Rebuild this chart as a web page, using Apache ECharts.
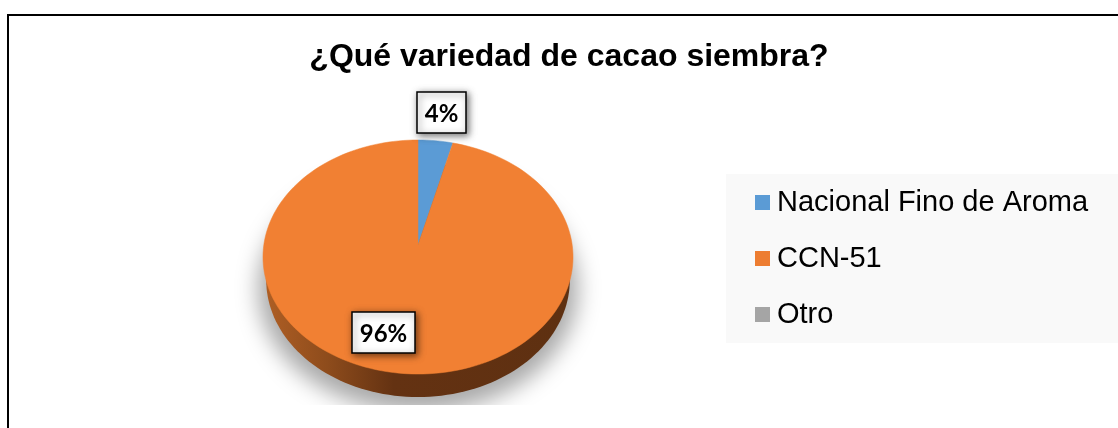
<!DOCTYPE html>
<html>
<head>
<meta charset="utf-8">
<style>html,body{margin:0;padding:0;background:#fff}#c{width:1118px;height:428px}</style>
<script src="https://cdn.jsdelivr.net/npm/echarts@6/dist/echarts.min.js"></script>
</head>
<body>
<div id="c"></div>
<script>
const chartTitle = '¿Qué variedad de cacao siembra?';
const categories = ['Nacional Fino de Aroma', 'CCN-51', 'Otro'];
const values = [4, 96, 0];
const legendColors = ['#5b9bd5', '#ed7d31', '#a5a5a5'];
const faceColors = ['#5b9bd5', '#f18033', '#a5a5a5'];
const labelBoxes = [[417, 92, 49, 41], [352, 312, 63, 41], null];

const total = values.reduce((a, b) => a + b, 0);
// Tilted-disc projection (unit circle -> perspective ellipse)
const K = -0.1026;
function project(u, v, cx, cy, c, a) {
  const d = 1 + K * v;
  return [cx + c * u / d, cy + a * v / d];
}
function arcPoints(from, to, cx, cy, c, a, closeAtCentre) {
  const pts = closeAtCentre ? [[cx, cy]] : [];
  const n = Math.max(8, Math.ceil((to - from) * 180));
  for (let i = 0; i <= n; i++) {
    const t = (from + (to - from) * i / n) * 2 * Math.PI;
    pts.push(project(Math.sin(t), -Math.cos(t), cx, cy, c, a));
  }
  return pts;
}
const CX = 418, CY = 245, RX = 154.2, RY = 115.8;
const SHADOW_SHIFT = 2000;

function sliceSeries(idx) {
  const start = values.slice(0, idx).reduce((a, b) => a + b, 0) / total;
  const end = start + values[idx] / total;
  return {
    type: 'custom',
    name: categories[idx],
    coordinateSystem: 'none',
    silent: true,
    z: 5,
    itemStyle: { color: legendColors[idx] },
    data: [[values[idx]]],
    renderItem: function () {
      if (!values[idx]) return { type: 'group', children: [] };
      return {
        type: 'polygon',
        shape: { points: arcPoints(start, end, CX, CY, RX, RY, true) },
        style: { fill: faceColors[idx], stroke: faceColors[idx], lineWidth: 0.5 }
      };
    }
  };
}
function labelSeries(idx) {
  return {
    type: 'custom',
    coordinateSystem: 'none',
    silent: true,
    z: 8,
    data: [[values[idx]]],
    renderItem: function () {
      const b = labelBoxes[idx];
      if (!b) return { type: 'group', children: [] };
      return {
        type: 'group',
        children: [
          { type: 'rect', shape: { x: b[0], y: b[1], width: b[2], height: b[3] },
            style: { fill: '#fff', stroke: '#000', lineWidth: 1.5,
              shadowBlur: 7, shadowColor: 'rgba(0,0,0,0.55)', shadowOffsetX: 2, shadowOffsetY: 2 } },
          { type: 'text', z2: 2, style: { x: b[0] + b[2] / 2, y: b[1] + b[3] / 2 + 2, text: values[idx] + '%',
              align: 'center', verticalAlign: 'middle', fill: '#000',
              font: 'bold 24px Lato, sans-serif' } }
        ]
      };
    }
  };
}
const bodySeries = {
  type: 'custom',
  coordinateSystem: 'none',
  silent: true,
  z: 2,
  data: [[0]],
  renderItem: function () {
    return {
      type: 'group',
      children: [
        { type: 'polygon', shape: { points: arcPoints(0, 1, CX - SHADOW_SHIFT, 276, 159, 122, false) },
          style: { fill: '#000', shadowBlur: 22, shadowColor: 'rgba(0,0,0,0.34)', shadowOffsetX: SHADOW_SHIFT } },
        { type: 'rect', shape: { x: 230, y: 405, width: 380, height: 23 }, style: { fill: '#fff' } },
        { type: 'polygon', shape: { points: arcPoints(0, 1, CX, 268, 151, 115.8, false) },
          style: { fill: { type: 'linear', x: 0, y: 0, x2: 1, y2: 0, colorStops: [
            { offset: 0, color: '#ae5e24' }, { offset: 0.2, color: '#8e4c1c' },
            { offset: 0.42, color: '#643212' }, { offset: 1, color: '#5e3011' }] } } }
      ]
    };
  }
};
const chart = echarts.init(document.getElementById('c'), null, { renderer: 'canvas' });
chart.setOption({
  animation: false,
  backgroundColor: '#fff',
  title: {
    text: chartTitle, left: 564, top: 36, textAlign: 'center',
    textStyle: { color: '#000', fontFamily: '"Liberation Sans", Arial, sans-serif', fontWeight: 'bold', fontSize: 32 }
  },
  legend: {
    data: categories, orient: 'vertical', left: 726, top: 174,
    backgroundColor: '#f9f9f9', borderRadius: 0,
    padding: [14, 30, 14, 29],
    icon: 'rect', itemWidth: 15, itemHeight: 15, itemGap: 27,
    selectedMode: false,
    textStyle: { color: '#000', fontFamily: '"Liberation Sans", Arial, sans-serif', fontSize: 29, padding: [0, 0, 0, 2] }
  },
  graphic: [
    { type: 'line', silent: true, z: 20, shape: { x1: 7, y1: 15, x2: 1118, y2: 15 }, style: { stroke: '#000', lineWidth: 2 } },
    { type: 'line', silent: true, z: 20, shape: { x1: 8, y1: 14, x2: 8, y2: 428 }, style: { stroke: '#000', lineWidth: 2 } }
  ],
  series: [bodySeries, ...categories.map((_, i) => sliceSeries(i)), ...categories.map((_, i) => labelSeries(i))]
});
</script>
</body>
</html>
